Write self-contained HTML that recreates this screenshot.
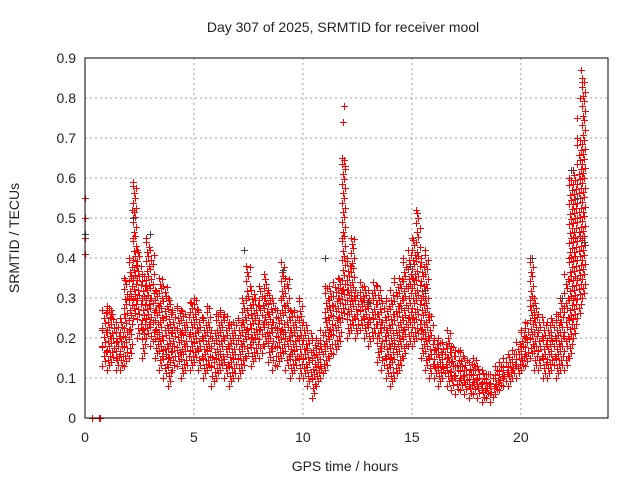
<!DOCTYPE html>
<html><head><meta charset="utf-8"><style>
body{margin:0;background:#fff}
svg{display:block;font-family:"Liberation Sans",sans-serif}
</style></head><body>
<svg id="chart" width="640" height="480" viewBox="0 0 640 480"></svg>
<script>
const times=[0.8,1.0,1.2,1.4,1.6,1.8,2.0,2.2,2.4,2.6,2.8,3.0,3.2,3.4,3.6,3.8,4.0,4.2,4.4,4.6,4.8,5.0,5.2,5.4,5.6,5.8,6.0,6.2,6.4,6.6,6.8,7.0,7.2,7.4,7.6,7.8,8.0,8.2,8.4,8.6,8.8,9.0,9.2,9.4,9.6,9.8,10.0,10.2,10.4,10.6,10.8,11.0,11.2,11.4,11.6,11.8,12.0,12.2,12.4,12.6,12.8,13.0,13.2,13.4,13.6,13.8,14.0,14.2,14.4,14.6,14.8,15.0,15.2,15.4,15.6,15.8,16.0,16.2,16.4,16.6,16.8,17.0,17.2,17.4,17.6,17.8,18.0,18.2,18.4,18.6,18.8,19.0,19.2,19.4,19.6,19.8,20.0,20.2,20.4,20.6,20.8,21.0,21.2,21.4,21.6,21.8,22.0,22.2,22.4,22.6,22.8];
const lowVals=[0.13,0.12,0.14,0.12,0.12,0.13,0.15,0.25,0.2,0.15,0.2,0.18,0.15,0.12,0.1,0.08,0.12,0.13,0.1,0.12,0.12,0.14,0.12,0.1,0.12,0.08,0.1,0.12,0.1,0.08,0.1,0.1,0.12,0.15,0.13,0.15,0.15,0.18,0.14,0.12,0.13,0.15,0.12,0.1,0.12,0.1,0.1,0.08,0.05,0.08,0.1,0.12,0.15,0.16,0.18,0.25,0.2,0.22,0.2,0.22,0.2,0.18,0.2,0.14,0.12,0.1,0.08,0.1,0.12,0.15,0.18,0.18,0.2,0.15,0.12,0.1,0.1,0.08,0.1,0.08,0.07,0.06,0.07,0.06,0.05,0.06,0.05,0.04,0.05,0.04,0.06,0.07,0.08,0.08,0.1,0.1,0.12,0.13,0.15,0.12,0.12,0.1,0.1,0.12,0.1,0.12,0.12,0.15,0.2,0.25,0.3];
const mid1Vals=[0.18,0.17,0.2,0.15,0.16,0.18,0.22,0.35,0.3,0.22,0.25,0.24,0.22,0.2,0.17,0.15,0.18,0.17,0.16,0.18,0.17,0.19,0.17,0.15,0.17,0.13,0.15,0.16,0.14,0.13,0.15,0.15,0.18,0.22,0.2,0.2,0.22,0.24,0.2,0.18,0.18,0.22,0.2,0.16,0.17,0.15,0.15,0.12,0.1,0.12,0.13,0.18,0.22,0.22,0.25,0.32,0.26,0.3,0.25,0.27,0.25,0.24,0.25,0.2,0.18,0.15,0.15,0.18,0.2,0.22,0.25,0.25,0.3,0.22,0.2,0.15,0.13,0.12,0.13,0.12,0.1,0.1,0.1,0.09,0.08,0.09,0.08,0.07,0.07,0.06,0.08,0.09,0.1,0.11,0.12,0.13,0.15,0.16,0.2,0.18,0.17,0.15,0.14,0.16,0.15,0.18,0.2,0.25,0.3,0.35,0.45];
const mid2Vals=[0.22,0.22,0.25,0.19,0.2,0.26,0.3,0.45,0.38,0.3,0.33,0.3,0.27,0.28,0.25,0.22,0.22,0.22,0.21,0.22,0.21,0.24,0.22,0.2,0.22,0.18,0.2,0.22,0.2,0.18,0.2,0.2,0.24,0.3,0.26,0.25,0.28,0.3,0.26,0.24,0.22,0.3,0.28,0.22,0.22,0.2,0.2,0.17,0.15,0.16,0.18,0.25,0.28,0.28,0.3,0.45,0.32,0.38,0.3,0.3,0.29,0.28,0.3,0.26,0.24,0.22,0.22,0.26,0.28,0.3,0.33,0.35,0.4,0.3,0.3,0.2,0.17,0.16,0.16,0.15,0.14,0.13,0.13,0.12,0.11,0.12,0.1,0.09,0.09,0.08,0.1,0.11,0.12,0.13,0.14,0.16,0.18,0.2,0.28,0.25,0.22,0.2,0.18,0.2,0.2,0.24,0.28,0.4,0.45,0.5,0.6];
const highVals=[0.27,0.28,0.27,0.24,0.25,0.35,0.4,0.58,0.42,0.36,0.45,0.42,0.32,0.35,0.33,0.3,0.27,0.28,0.27,0.26,0.29,0.3,0.27,0.25,0.28,0.22,0.26,0.27,0.26,0.24,0.24,0.25,0.3,0.38,0.32,0.3,0.33,0.36,0.32,0.3,0.27,0.39,0.35,0.27,0.27,0.3,0.24,0.22,0.2,0.2,0.22,0.33,0.33,0.34,0.35,0.65,0.4,0.45,0.32,0.34,0.33,0.32,0.34,0.33,0.3,0.3,0.32,0.35,0.35,0.4,0.42,0.45,0.52,0.4,0.42,0.26,0.2,0.2,0.19,0.22,0.18,0.17,0.17,0.15,0.14,0.15,0.13,0.12,0.11,0.11,0.13,0.14,0.15,0.16,0.17,0.19,0.22,0.24,0.4,0.3,0.26,0.24,0.24,0.25,0.26,0.3,0.36,0.6,0.62,0.7,0.85];
const extraT=[0.0,0.0,0.0,0.0,0.3,0.65,0.7,2.2,2.15,11.9,11.85,11.95,22.75,22.8,22.7,22.6];
const extraV=[0.55,0.5,0.45,0.41,0,0,0,0.59,0.52,0.78,0.74,0.63,0.87,0.84,0.8,0.75];
const blackT=[0.0,2.2,3.0,7.3,9.1,11.0,14.9,15.6,22.3,22.6,22.9,21.9,13.0,20.5];
const blackV=[0.46,0.5,0.46,0.42,0.37,0.4,0.38,0.32,0.62,0.55,0.44,0.3,0.29,0.4];
const xTicks=[0,5,10,15,20];
const yTicks=[0,0.1,0.2,0.3,0.4,0.5,0.6,0.7,0.8,0.9];

const NS="http://www.w3.org/2000/svg";
const svg=document.getElementById('chart');
const L=85,R=608,T=58,B=418;
const xs=v=>L+(v/24)*(R-L);
const ys=v=>B-(v/0.9)*(B-T);
function mk(tag,attrs,parent){const e=document.createElementNS(NS,tag);for(const k in attrs)e.setAttribute(k,attrs[k]);(parent||svg).appendChild(e);return e;}

const grid=mk('g',{});


xTicks.forEach(t=>{
  if(t>0){const g=mk('line',{x1:xs(t),x2:xs(t),y1:T,y2:B,stroke:'#a0a0a0','stroke-dasharray':'2,3'},grid);
  
  }
  const lab=mk('text',{x:xs(t),y:B+24,'text-anchor':'middle','font-size':'14',fill:'#222'});
  lab.textContent=t;
  
  
});
yTicks.forEach(t=>{
  if(t>0&&t<0.9){const g=mk('line',{x1:L,x2:R,y1:ys(t),y2:ys(t),stroke:'#a0a0a0','stroke-dasharray':'2,3'},grid);
  
  }
  const lab=mk('text',{x:L-9,y:ys(t)+5,'text-anchor':'end','font-size':'14',fill:'#222'});
  lab.textContent=t===0?'0':t.toFixed(1);
  
  
});

const pts=mk('g',{stroke:'#ff0000','stroke-width':'1',fill:'none'});


function cross(t,v,g){const x=Math.round(xs(t))+0.5,y=Math.round(ys(v))+0.5;
  const p=mk('path',{d:`M${x-3.5} ${y}H${x+3.5}M${x} ${y-3.5}V${y+3.5}`},g);
  
  }
const blk=mk('g',{stroke:'#444','stroke-width':'1',fill:'none'});


blackT.forEach((t,i)=>cross(t,blackV[i],blk));
const offs=[0,0.1,0.05,0.15];
times.forEach((t,i)=>{
  [lowVals,mid1Vals,mid2Vals,highVals].forEach(a=>cross(t,a[i],pts));
  let k=0;
  for(let v=lowVals[i];v<=highVals[i];v+=0.012){
    cross(t+offs[k%4],v,pts);
    k++;
  }
});
extraT.forEach((t,i)=>cross(t,extraV[i],pts));

const border=mk('rect',{x:L,y:T,width:R-L,height:B-T,fill:'none',stroke:'#000','stroke-width':'1'});



const title=mk('text',{x:343,y:32,'text-anchor':'middle','font-size':'14',fill:'#222'});
title.textContent='Day 307 of 2025, SRMTID for receiver mool';


const xl=mk('text',{x:345,y:471,'text-anchor':'middle','font-size':'14',fill:'#222'});
xl.textContent='GPS time / hours';


const yl=mk('text',{x:0,y:0,'text-anchor':'middle','font-size':'14',fill:'#222',transform:'translate(19,238) rotate(-90)'});
yl.textContent='SRMTID / TECUs';


</script>
</body></html>
